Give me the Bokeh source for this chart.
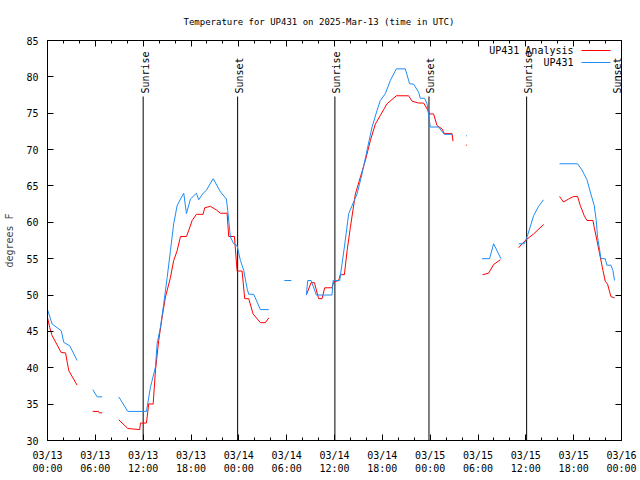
import math
from bokeh.plotting import figure
from bokeh.models import FixedTicker, LinearAxis, Label, Arrow, Range1d, CustomLabelingPolicy
from bokeh.core.properties import value
from bokeh.embed import file_html
from bokeh.resources import INLINE

NaN = float("nan")
FONT = "DejaVu Sans Mono"

title_text = "Temperature for UP431 on 2025-Mar-13 (time in UTC)"
y_label = "degrees F"

# hours since 2025-03-13 00:00 UTC
tick_hours = [0, 6, 12, 18, 24, 30, 36, 42, 48, 54, 60, 66, 72]
tick_labels = ["03/13\n00:00", "03/13\n06:00", "03/13\n12:00", "03/13\n18:00",
               "03/14\n00:00", "03/14\n06:00", "03/14\n12:00", "03/14\n18:00",
               "03/15\n00:00", "03/15\n06:00", "03/15\n12:00", "03/15\n18:00",
               "03/16\n00:00"]
y_ticks = [30, 35, 40, 45, 50, 55, 60, 65, 70, 75, 80, 85]

sun_hours = [12.0, 23.85, 36.05, 47.85, 60.1, 72.0]
sun_labels = ["Sunrise", "Sunset", "Sunrise", "Sunset", "Sunrise", "Sunset"]

# UP431 Analysis (red)
ana_hours = [0.0, 0.29, 0.59, 1.72, 2.26, 2.67, 3.72, NaN,
             5.68, 6.4, 6.5, 6.86, NaN,
             8.94, 10.07, 11.57, 11.66, 12.41, 12.70, 13.25, 13.54, 13.95, 14.38,
             14.79, 15.42, 15.83, 16.26, 16.68, 17.43, 17.72, 18.14, 18.68, 19.52,
             19.72, 20.44, 21.19, 21.69, 22.53, 22.73, 23.45, 23.78, 24.41, 24.74,
             25.24, 25.79, 26.71, 27.33, 27.75, NaN,
             32.47, 33.06, 33.48, 34.01, 34.44, 34.77, 35.69, 35.90, 36.52, 36.73,
             37.24, 37.58, 37.99, 38.62, 39.24, 39.87, 40.50, 41.12, 41.75, 42.59,
             43.76, 45.30, 45.73, 46.55, 47.18, 47.61, 47.93, 48.43, 48.86, 49.49,
             49.77, 50.74, 50.87, NaN,
             52.52, 52.62, NaN,
             54.58, 55.33, 55.96, 56.80, NaN,
             59.09, 59.52, 60.05, 60.97, 62.22, NaN,
             64.23, 64.73, 65.36, 65.99, 66.49, 66.83, 67.33, 67.67, 68.42, 68.58,
             68.92, 69.25, 69.67, 69.96, 70.25, 70.67, 71.13]
ana_temp = [46.9, 45.5, 44.4, 42.1, 42.05, 39.6, 37.6, NaN,
            34.0, 34.0, 33.8, 33.8, NaN,
            32.85, 31.65, 31.5, 32.4, 32.4, 35.05, 35.0, 39.6, 43.75, 46.95,
            49.7, 52.4, 54.75, 56.1, 58.05, 58.05, 58.9, 60.25, 61.1, 61.1,
            62.0, 62.2, 61.7, 61.25, 61.25, 58.05, 58.05, 53.3, 53.3, 49.5,
            49.5, 47.4, 46.2, 46.2, 46.85, NaN,
            50.0, 51.7, 51.7, 49.5, 49.5, 51.0, 51.0, 51.8, 52.0, 52.8,
            52.8, 56.1, 59.3, 63.9, 66.2, 68.5, 71.25, 73.5, 74.7, 76.3,
            77.4, 77.4, 76.65, 76.4, 76.4, 75.6, 74.9, 74.9, 73.3, 72.85,
            72.2, 72.2, 71.15, NaN,
            70.6, 70.6, NaN,
            52.8, 53.0, 54.2, 54.85, NaN,
            56.5, 57.05, 57.6, 58.4, 59.7, NaN,
            63.55, 62.8, 63.2, 63.55, 63.55, 62.3, 60.9, 60.25, 60.25, 59.3,
            57.5, 55.7, 53.4, 51.9, 51.5, 49.8, 49.6]

# UP431 observations (blue)
obs_hours = [0.0, 0.59, 1.22, 1.72, 2.04, 2.80, 3.72, NaN,
             5.68, 6.23, 6.86, NaN,
             8.94, 10.07, 12.41, 12.91, 13.54, 13.75, 14.17, 14.58, 15.01, 15.42,
             15.83, 16.26, 16.68, 17.09, 17.43, 17.93, 18.68, 18.97, 19.52, 19.93,
             20.78, 21.69, 22.44, 22.61, 22.94, 23.36, 23.78, 24.20, 24.61, 25.04,
             25.24, 25.86, 26.71, 27.75, NaN,
             29.71, 30.59, NaN,
             32.47, 32.64, 33.06, 33.73, 35.69, 35.82, 36.65, 36.95, 37.24, 37.78,
             38.40, 38.83, 39.46, 40.08, 40.71, 41.34, 41.75, 42.38, 43.00, 43.76,
             44.88, 45.42, 45.92, 46.55, 46.76, 47.30, 47.61, 48.02, 49.06, 49.77,
             50.81, NaN,
             52.52, 52.62, NaN,
             54.50, 55.45, 55.96, 56.88, NaN,
             59.09, 59.80, 60.22, 60.97, 61.60, 62.22, NaN,
             64.23, 66.49, 67.04, 67.67, 68.08, 68.58, 68.83, 69.00, 69.33, 69.42,
             69.96, 70.17, 70.67, 70.92, 71.13]
obs_temp = [48.0, 46.0, 45.5, 45.1, 43.5, 43.0, 41.0, NaN,
            37.0, 36.0, 36.0, NaN,
            36.0, 34.0, 34.0, 37.3, 40.1, 43.3, 45.6, 48.8, 52.4, 56.1,
            59.8, 62.3, 63.2, 64.0, 61.2, 63.2, 64.0, 63.1, 64.0, 64.4,
            66.0, 64.2, 63.2, 61.6, 58.0, 57.05, 56.8, 54.75, 53.4, 50.9,
            50.1, 50.1, 48.0, 48.0, NaN,
            52.0, 52.0, NaN,
            50.0, 52.0, 52.0, 50.0, 50.0, 52.0, 52.0, 54.3, 56.6, 61.2,
            62.8, 63.9, 66.7, 69.9, 73.1, 75.4, 76.75, 77.7, 79.5, 81.1,
            81.1, 79.05, 79.0, 77.9, 77.05, 77.05, 76.3, 73.1, 73.1, 72.1,
            72.1, NaN,
            71.9, 71.9, NaN,
            55.0, 55.0, 57.05, 55.0, NaN,
            57.05, 57.05, 58.2, 60.9, 62.2, 63.1, NaN,
            68.05, 68.05, 67.2, 65.85, 64.2, 62.3, 60.25, 57.95, 55.7, 55.0,
            55.0, 54.1, 54.1, 53.4, 52.0]

series_names = ["UP431 Analysis", "UP431"]
series_colors = ["#ff0000", "#1e8cf5"]

x_lo, x_hi = 0, 72
y_lo, y_hi = 30, 85

p = figure(width=640, height=480, output_backend="svg", toolbar_location=None,
           x_range=Range1d(x_lo, x_hi), y_range=Range1d(y_lo, y_hi),
           min_border_left=47, min_border_right=19, min_border_top=40,
           min_border_bottom=40)
p.xgrid.visible = False
p.ygrid.visible = False
p.outline_line_color = "black"
p.outline_line_width = 1
p.background_fill_color = "white"
p.border_fill_color = "white"

p.title.text = title_text
p.title.align = "left"
p.title.offset = 136
p.title.standoff = 20
p.title.text_font = FONT
p.title.text_font_size = "9px"
p.title.text_font_style = "normal"
p.title.text_color = "black"

xt = FixedTicker(ticks=tick_hours, minor_ticks=list(range(x_lo, x_hi + 1, 2)))
yt = FixedTicker(ticks=y_ticks, minor_ticks=[])

def style_axis(ax):
    ax.axis_line_color = "black"
    ax.major_tick_line_color = "black"
    ax.minor_tick_line_color = "black"
    ax.major_tick_in = 6
    ax.major_tick_out = 0
    ax.minor_tick_in = 3
    ax.minor_tick_out = 0
    ax.major_label_text_font = FONT
    ax.major_label_text_font_size = "10px"
    ax.major_label_text_color = "black"

xa = p.xaxis[0]
xa.ticker = xt
style_axis(xa)
xa.major_label_overrides = {h: lab for h, lab in zip(tick_hours, tick_labels)}
xa.major_label_standoff = 9

ya = p.yaxis[0]
ya.ticker = yt
style_axis(ya)
ya.major_label_standoff = 9
ya.axis_label = y_label
ya.axis_label_text_font = FONT
ya.axis_label_text_font_size = "10px"
ya.axis_label_text_font_style = "normal"
ya.axis_label_standoff = 8

hide_all = CustomLabelingPolicy(code="""
    const all = [...indices]
    for (const i of all) indices.unset(i)
    return indices
""")

top = LinearAxis(ticker=xt)
style_axis(top)
top.major_label_policy = hide_all
top.major_label_standoff = 0
top.major_label_text_font_size = "1px"
p.add_layout(top, "above")

right = LinearAxis(ticker=yt)
style_axis(right)
right.major_label_policy = hide_all
right.major_label_standoff = 0
right.major_label_text_font_size = "1px"
p.add_layout(right, "right")

# sunrise / sunset markers
y_top = y_lo + 0.86 * (y_hi - y_lo)
sun_xoff = [2 if h < x_hi else -4 for h in sun_hours]
p.segment(x0=sun_hours, y0=[y_lo] * len(sun_hours), x1=sun_hours,
          y1=[y_top] * len(sun_hours), line_color="black", line_width=1)
p.text(x=sun_hours, y=[y_top] * len(sun_hours), text=sun_labels, angle=math.pi / 2,
       text_align="left", text_baseline="middle", x_offset=sun_xoff, y_offset=-3,
       text_font=value(FONT), text_font_size="10px", text_color="black")

p.line(ana_hours, ana_temp, line_color=series_colors[0], line_width=1)
p.line(obs_hours, obs_temp, line_color=series_colors[1], line_width=1)

# gnuplot-style key: text right-aligned, sample to its right
for i, (name, col) in enumerate(zip(series_names, series_colors)):
    yy = 390 - 12 * i
    p.add_layout(Label(x=526, y=yy, x_units="screen", y_units="screen", text=name,
                       text_align="right", text_baseline="middle", text_font=FONT,
                       text_font_size="10px", text_color="black"))
    p.add_layout(Arrow(end=None, x_start=534, y_start=yy, x_end=563, y_end=yy,
                       start_units="screen", end_units="screen",
                       line_color=col, line_width=1))

open("out.html", "w").write(file_html(p, INLINE))
